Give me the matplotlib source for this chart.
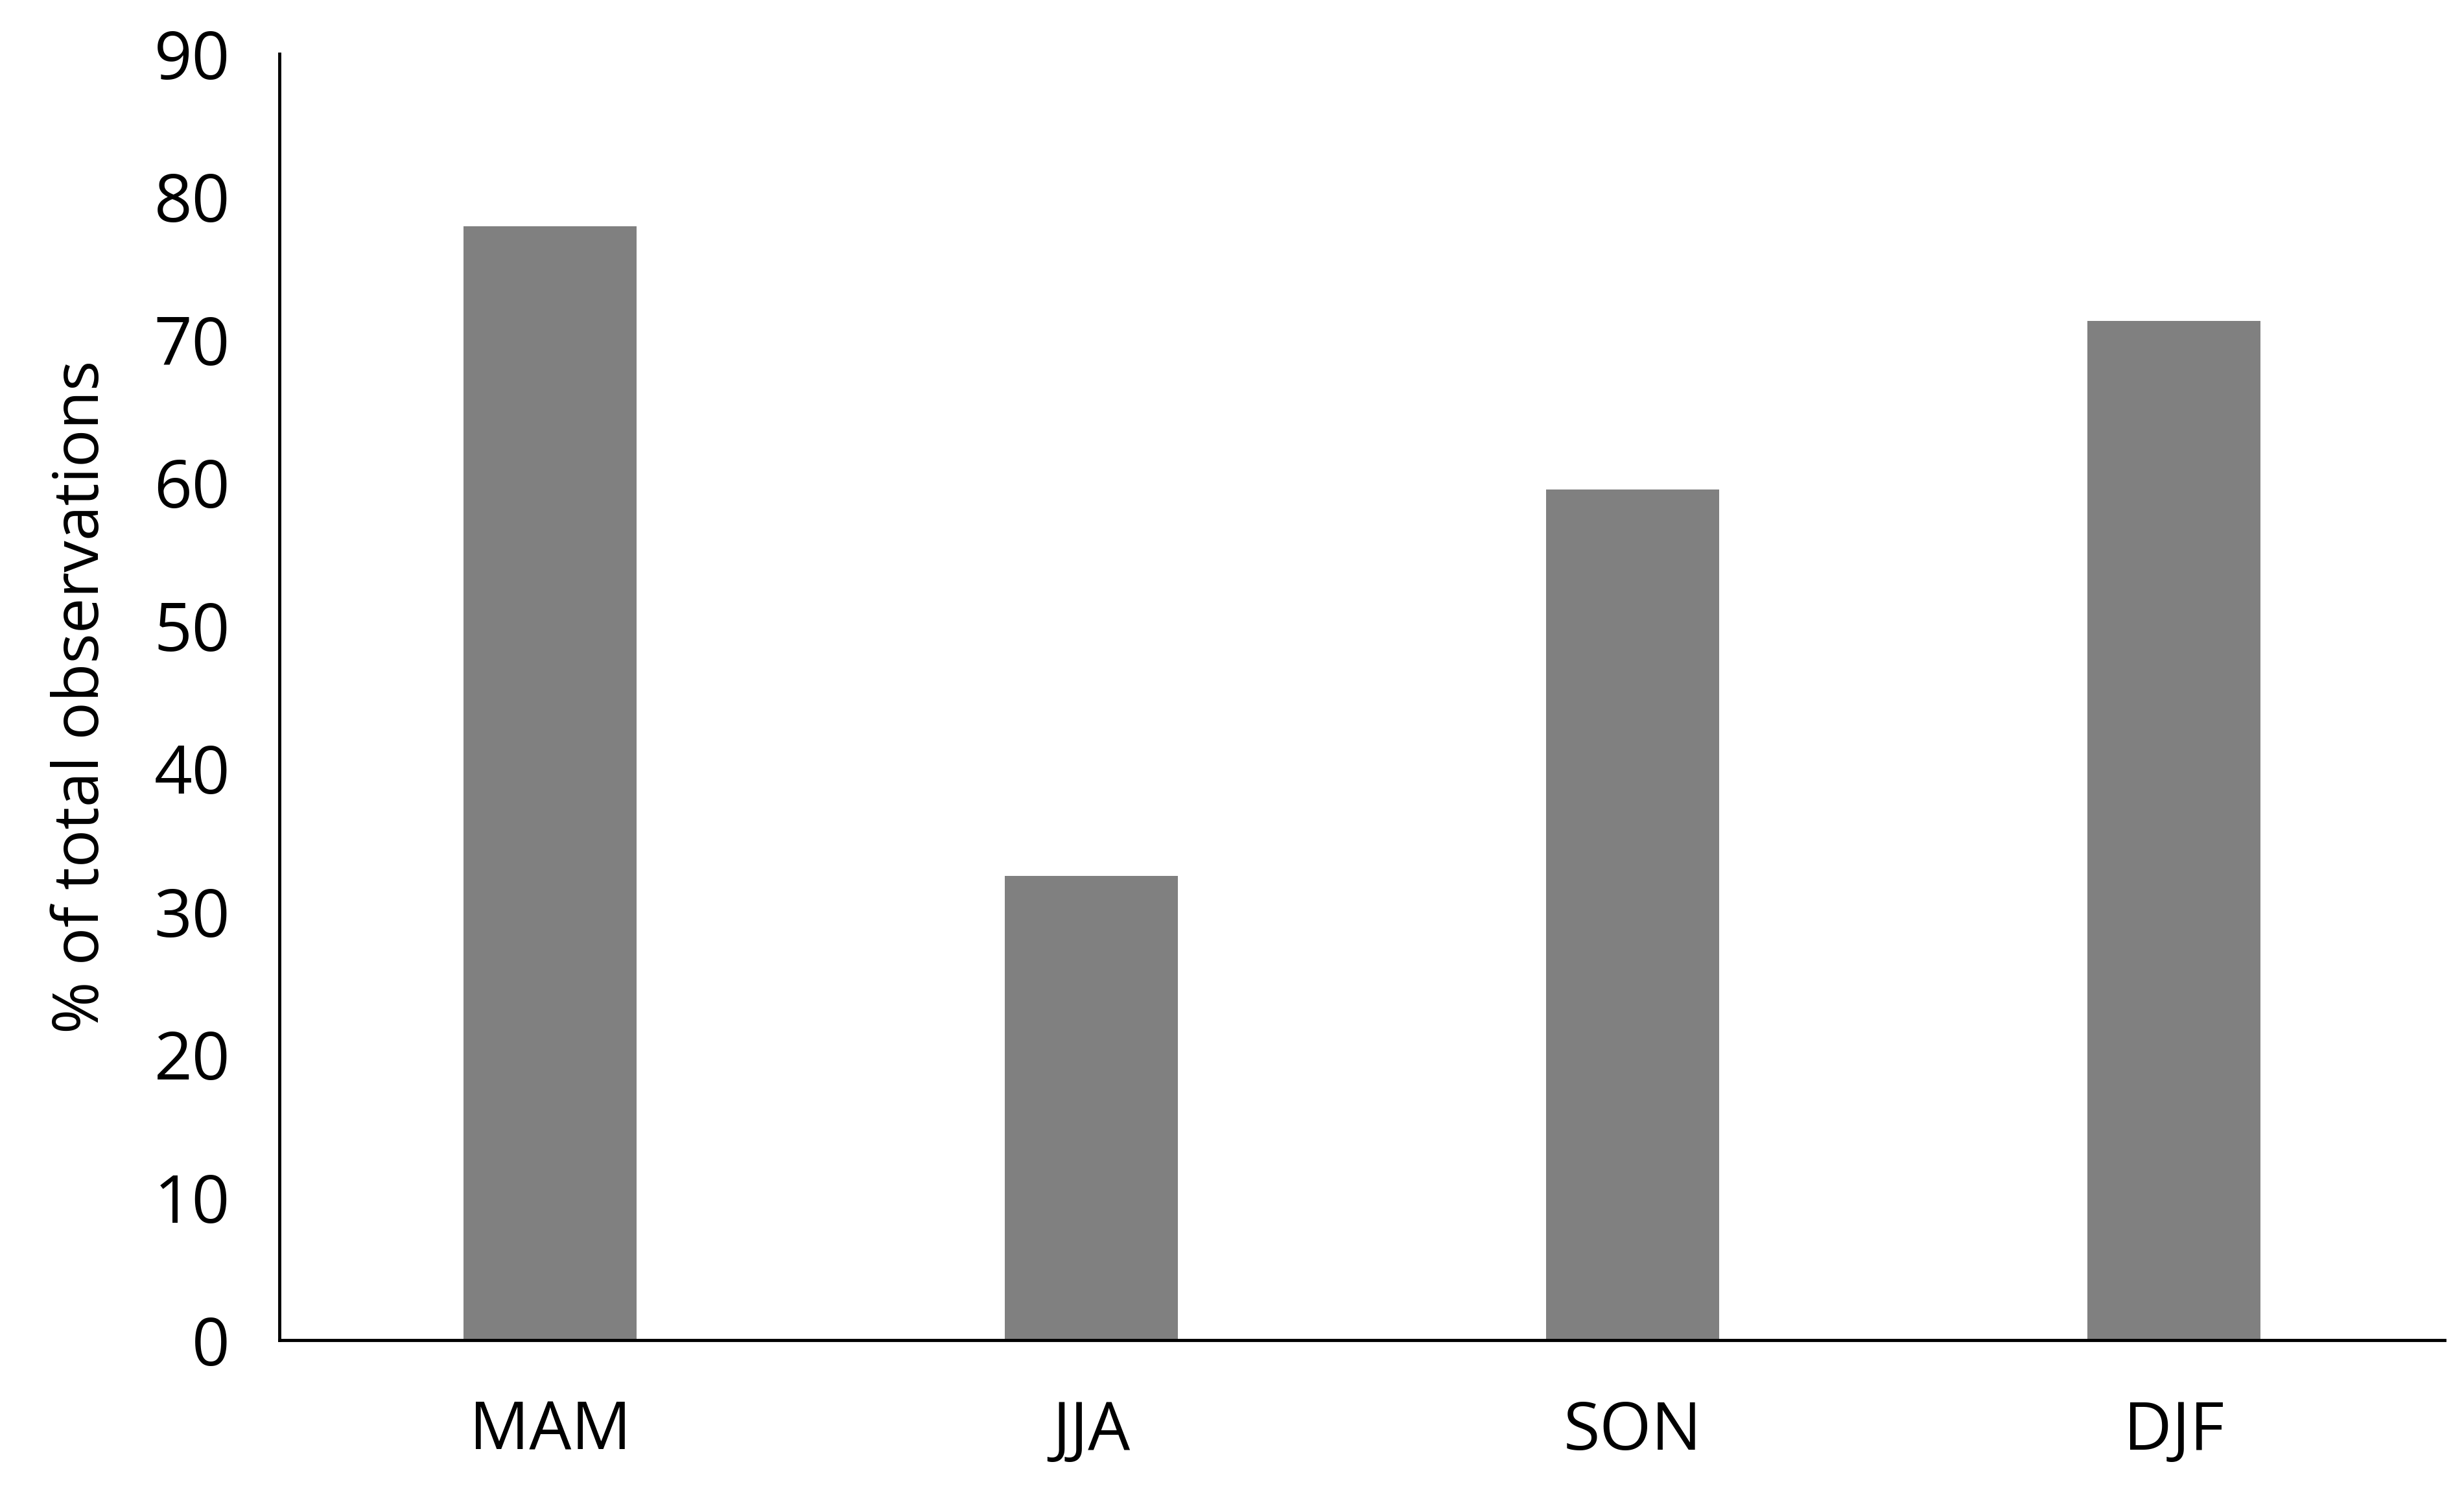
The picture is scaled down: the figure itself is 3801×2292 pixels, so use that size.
import matplotlib
matplotlib.use("Agg")
import matplotlib.pyplot as plt

categories = ["MAM", "JJA", "SON", "DJF"]
values = [77.9, 32.5, 59.5, 71.3]
yticks = [0, 10, 20, 30, 40, 50, 60, 70, 80, 90]

plt.rcParams['font.family'] = ['Open Sans', 'DejaVu Sans']
fig = plt.figure(figsize=(38.01, 22.92), dpi=100)
ax = fig.add_axes([0.1135, 0.098, 0.8785, 0.866])
ax.bar(range(len(categories)), values, width=0.32, color='#808080')
ax.set_xlim(-0.5, 3.5)
ax.set_ylim(0, 90)
ax.set_yticks(yticks)
ax.set_xticks(range(len(categories)))
ax.set_xticklabels(categories)
ax.tick_params(axis='both', length=0, labelsize=74)
ax.tick_params(axis='y', pad=55)
ax.tick_params(axis='x', pad=65)
ax.set_ylabel("% of total observations", fontsize=70, labelpad=45)
for s in ['top', 'right']:
    ax.spines[s].set_visible(False)
for s in ['left', 'bottom']:
    ax.spines[s].set_linewidth(3.5)
fig.savefig("out.png", dpi=100)
